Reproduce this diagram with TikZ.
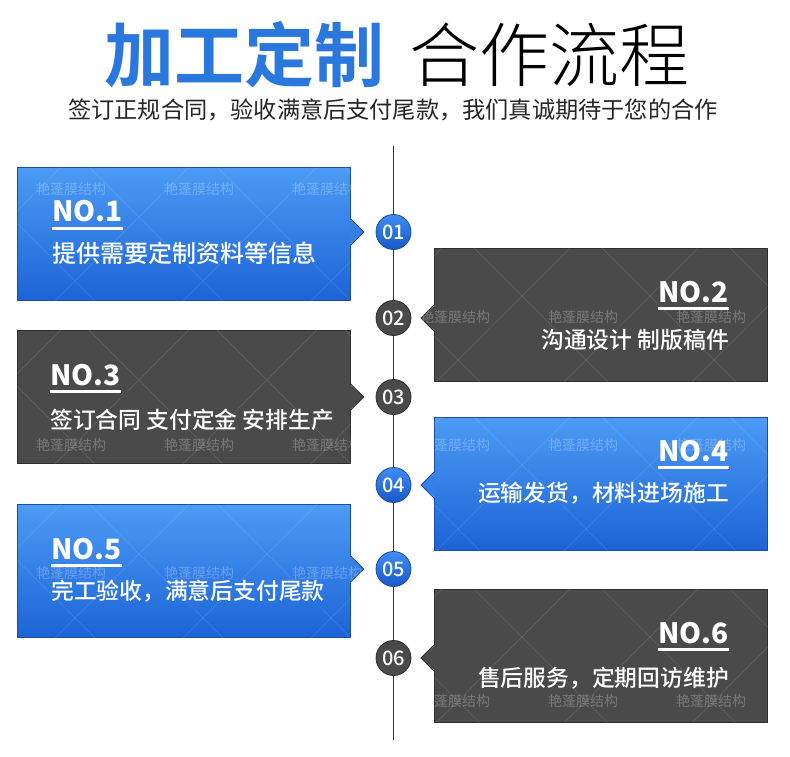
\documentclass[tikz,border=0pt]{standalone}
\usepackage{fontspec}
\newfontfamily\cjk{Noto Sans CJK SC}
\IfFontExistsTF{Noto Sans CJK SC Light}
  {\newfontfamily\cjklight{Noto Sans CJK SC Light}}
  {\newfontfamily\cjklight{Noto Sans CJK SC}}
\IfFontExistsTF{Noto Sans CJK SC Medium}
  {\newfontfamily\cjkmedium{Noto Sans CJK SC Medium}}
  {\newfontfamily\cjkmedium{Noto Sans CJK SC}}
\IfFontExistsTF{Noto Sans CJK SC Black}
  {\newfontfamily\cjkheavy{Noto Sans CJK SC Black}}
  {\newfontfamily\cjkheavy{Noto Sans CJK SC}}
\newcommand\px[1]{\fontsize{#1}{#1}\selectfont}
\definecolor{titleblue}{HTML}{2A78DE}
\definecolor{cardtop}{HTML}{4C9BF5}
\definecolor{cardbot}{HTML}{1C64D6}
\definecolor{cardline}{HTML}{1A4F9E}
\definecolor{greyfill}{HTML}{4A4A4A}
\definecolor{greyline}{HTML}{2E2E2E}
\definecolor{dottop}{HTML}{3F8EF2}
\definecolor{dotbot}{HTML}{1858C8}
\definecolor{spinecol}{HTML}{333333}
\tikzset{
  card/.style = {rectangle, anchor=north west, inner sep=0pt,
    minimum width=333pt, minimum height=133pt, line width=0.8pt},
  card-blue/.style = {card, top color=cardtop, bottom color=cardbot,
    draw=cardline},
  card-grey/.style = {card, fill=greyfill, draw=greyline},
  tip-blue/.style = {fill=cardtop!50!cardbot},
  tip-grey/.style = {fill=greyfill},
  edge-blue/.style = {draw=cardline, line width=0.8pt},
  edge-grey/.style = {draw=greyline, line width=0.8pt},
  dot/.style = {circle, minimum size=35pt, inner sep=0pt, text=white,
    font=\cjkmedium\px{20}, line width=0.8pt},
  dot-blue/.style = {dot, top color=dottop, bottom color=dotbot,
    draw=cardline},
  dot-grey/.style = {dot, fill=greyfill, draw=greyline},
  notext/.style = {inner sep=0pt, text=white, font=\cjk\bfseries\px{28}},
  cardtext/.style = {inner sep=0pt, text=white, font=\cjkmedium\px{#1}},
  watermark/.style = {inner sep=0pt, anchor=west, text=white,
    opacity=0.25, font=\cjk\px{14}},
  texture/.style = {white, opacity=0.13, line width=0.6pt},
  spine/.style = {draw=spinecol, line width=1pt}
}
\begin{document}
\begin{tikzpicture}[x=1pt, y=-1pt]
    \fill[white] (0,0) rectangle (790,757);
    \useasboundingbox (0,0) rectangle (790,757);
    % title
    \node[inner sep=0pt, anchor=east, text=titleblue, font=\cjkheavy\bfseries\px{70}]
        (title1) at (385,55) {加工定制};
    \node[inner sep=0pt, anchor=west, text=black, font=\cjklight\px{70}]
        (title2) at (409,55) {合作流程};
    \node[inner sep=0pt, text=black!85, font=\cjk\px{23.2}] (subtitle) at (393,110)
        {签订正规合同，验收满意后支付尾款，我们真诚期待于您的合作};
    % timeline
    \coordinate (top) at (393.5,146);
    \coordinate (bot) at (393.5,740);
    \draw[spine] (top) -- (bot);
    % cards left
    \foreach \i/\kind/\ytop/\cy in {1/blue/167/232, 3/grey/330/397, 5/blue/504/569}{
        \node[card-\kind] (card\i) at (17,\ytop) {};
        \node[dot-\kind] (n\i) at (393.5,\cy) {0\i};
        \coordinate (p\i) at (card\i.east |- n\i);
        \fill[tip-\kind] ([shift={(-1pt,13pt)}]p\i) -- ([xshift=13pt]p\i)
            -- ([shift={(-1pt,-13pt)}]p\i) -- cycle;
        \draw[edge-\kind] ([yshift=13pt]p\i) -- ([xshift=13pt]p\i) -- ([yshift=-13pt]p\i);
    }
    % cards right
    \foreach \i/\kind/\ytop/\cy in {2/grey/248/318, 4/blue/417/485, 6/grey/589/658}{
        \node[card-\kind] (card\i) at (434,\ytop) {};
        \node[dot-\kind] (n\i) at (393.5,\cy) {0\i};
        \coordinate (p\i) at (card\i.west |- n\i);
        \fill[tip-\kind] ([shift={(1pt,13pt)}]p\i) -- ([xshift=-13pt]p\i)
            -- ([shift={(1pt,-13pt)}]p\i) -- cycle;
        \draw[edge-\kind] ([yshift=13pt]p\i) -- ([xshift=-13pt]p\i) -- ([yshift=-13pt]p\i);
    }
    % faint diamond pattern
    \foreach \i/\x/\y/\cx/\cy in {1/17/167/122/50, 3/17/330/122/50, 5/17/504/122/50,
        2/434/248/88/48, 4/434/417/88/48, 6/434/589/88/48}{
        \begin{scope}
            \clip (card\i.north west) rectangle (card\i.south east);
            \foreach \k in {-2,...,3}{
                \draw[texture] (\x+\cx+128*\k-200, \y+\cy-200) -- ++(400,400);
                \draw[texture] (\x+\cx+128*\k-200, \y+\cy+200) -- ++(400,-400);
            }
        \end{scope}
    }
    % card texts
    \foreach \i/\x/\y/\ty/\fs/\txt in {1/52/222/253/24/提供需要定制资料等信息,
        3/50/385/420/22.8/签订合同 支付定金 安排生产, 5/51/559/591/22.8/完工验收，满意后支付尾款}{
        \node[notext, anchor=base west] (no\i) at (\x,\y) {NO.\i};
        \draw[white, line width=3.5pt] ([yshift=-6.5pt]no\i.base west) -- ([yshift=-6.5pt]no\i.base east);
        \node[cardtext=\fs, anchor=west] (text\i) at (\x,\ty) {\txt};
    }
    \foreach \i/\x/\y/\ty/\fs/\txt in {2/729/302/340/22.8/沟通设计 制版稿件,
        4/729/461/493/22.8/运输发货，材料进场施工, 6/729/643/678/22.8/售后服务，定期回访维护}{
        \node[notext, anchor=base east] (no\i) at (\x,\y) {NO.\i};
        \draw[white, line width=3.5pt] ([yshift=-6.5pt]no\i.base west) -- ([yshift=-6.5pt]no\i.base east);
        \node[cardtext=\fs, anchor=east] (text\i) at (\x,\ty) {\txt};
    }
    % watermark
    \foreach \row in {1,...,5}
        \foreach \col in {0,...,5}
            \node[watermark] at (36+128*\col, 61+128*\row) {艳蓬膜结构};
\end{tikzpicture}
\end{document}
